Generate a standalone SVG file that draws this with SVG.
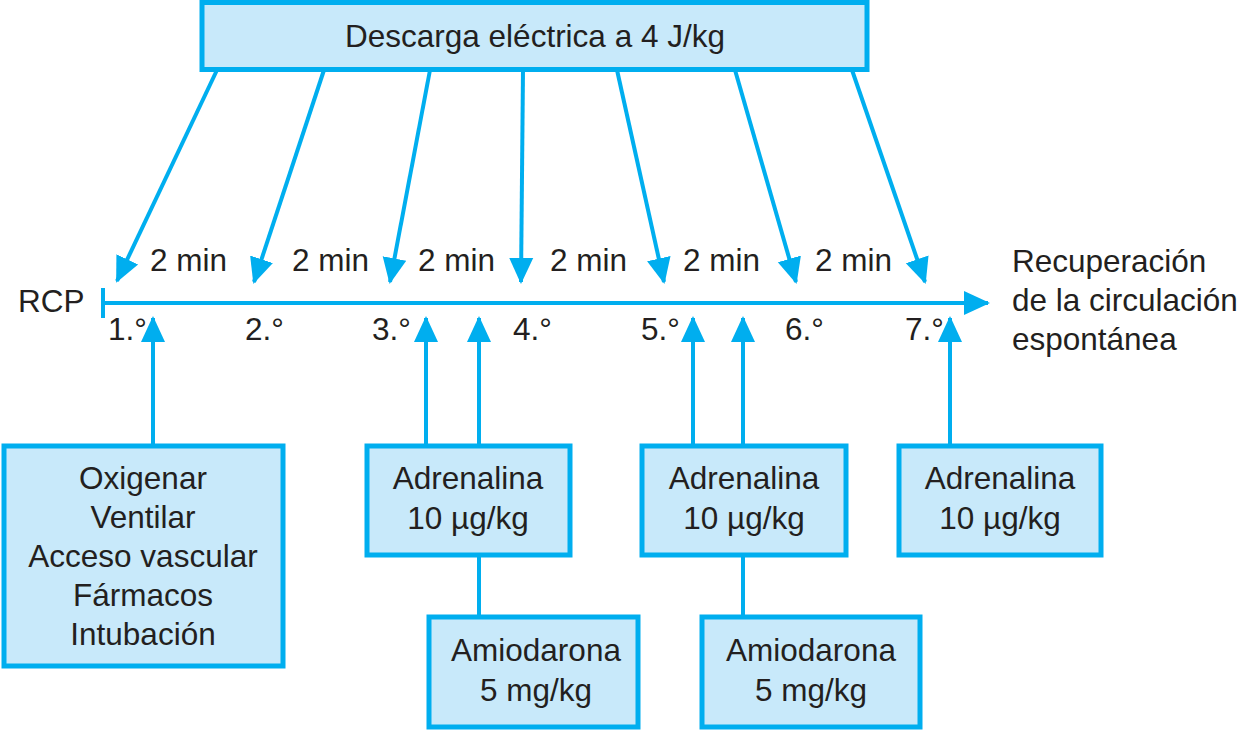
<svg xmlns="http://www.w3.org/2000/svg" width="1249" height="732" viewBox="0 0 1249 732">
<defs>
<style>
.box{fill:#C8E9FA;stroke:#00AEEF;stroke-width:5}
.ln{stroke:#00AEEF;stroke-width:4;fill:none}
.t{font-family:"Liberation Sans",Arial,sans-serif;font-size:31.5px;fill:#231F20}
.c{text-anchor:middle}
</style>
<marker id="ah" markerUnits="userSpaceOnUse" markerWidth="26" markerHeight="26" viewBox="0 0 26 26" refX="24" refY="13" orient="auto">
<path d="M0,1 L26,13 L0,25 Z" fill="#00AEEF"/>
</marker>
</defs>
<rect width="1249" height="732" fill="#fff"/>
<g id="connectors">
<line class="ln" x1="217" y1="70" x2="117" y2="281" marker-end="url(#ah)"/>
<line class="ln" x1="324" y1="70" x2="254" y2="282" marker-end="url(#ah)"/>
<line class="ln" x1="430" y1="70" x2="390" y2="282" marker-end="url(#ah)"/>
<line class="ln" x1="523" y1="70" x2="521" y2="282" marker-end="url(#ah)"/>
<line class="ln" x1="617" y1="70" x2="664" y2="282" marker-end="url(#ah)"/>
<line class="ln" x1="735" y1="70" x2="796" y2="282" marker-end="url(#ah)"/>
<line class="ln" x1="852" y1="70" x2="925" y2="282" marker-end="url(#ah)"/>
<line class="ln" x1="103" y1="303" x2="988" y2="303" marker-end="url(#ah)"/>
<line class="ln" x1="103" y1="288" x2="103" y2="318"/>
<line class="ln" x1="153" y1="444" x2="153" y2="318" marker-end="url(#ah)"/>
<line class="ln" x1="426" y1="444" x2="426" y2="318" marker-end="url(#ah)"/>
<line class="ln" x1="479" y1="444" x2="479" y2="318" marker-end="url(#ah)"/>
<line class="ln" x1="693" y1="444" x2="693" y2="318" marker-end="url(#ah)"/>
<line class="ln" x1="743" y1="444" x2="743" y2="318" marker-end="url(#ah)"/>
<line class="ln" x1="950" y1="444" x2="950" y2="318" marker-end="url(#ah)"/>
<line class="ln" x1="479" y1="556" x2="479" y2="616"/>
<line class="ln" x1="743" y1="556" x2="743" y2="616"/>
</g>
<g id="shock">
<rect class="box" x="202" y="2.5" width="665" height="67"/>
<text class="t c" x="535" y="47">Descarga eléctrica a 4 J/kg</text>
</g>
<g id="timeline-labels">
<text class="t" x="18" y="312">RCP</text>
<text class="t" x="150" y="271">2 min</text>
<text class="t" x="292" y="271">2 min</text>
<text class="t" x="418" y="271">2 min</text>
<text class="t" x="550" y="271">2 min</text>
<text class="t" x="683" y="271">2 min</text>
<text class="t" x="815" y="271">2 min</text>
<text class="t" x="108" y="340">1.°</text>
<text class="t" x="245" y="340">2.°</text>
<text class="t" x="372" y="340">3.°</text>
<text class="t" x="513" y="340">4.°</text>
<text class="t" x="641" y="340">5.°</text>
<text class="t" x="785" y="340">6.°</text>
<text class="t" x="905" y="340">7.°</text>
</g>
<g id="outcome">
<text class="t" x="1012" y="272">Recuperación</text>
<text class="t" x="1012" y="311">de la circulación</text>
<text class="t" x="1012" y="350">espontánea</text>
</g>
<g id="initial">
<rect class="box" x="4" y="446" width="279" height="220"/>
<text class="t c" x="143" y="489">Oxigenar</text>
<text class="t c" x="143" y="528">Ventilar</text>
<text class="t c" x="143" y="567">Acceso vascular</text>
<text class="t c" x="143" y="606">Fármacos</text>
<text class="t c" x="143" y="645">Intubación</text>
</g>
<g id="adrenalina1">
<rect class="box" x="367" y="446" width="203" height="109"/>
<text class="t c" x="468" y="489">Adrenalina</text>
<text class="t c" x="468" y="529">10 µg/kg</text>
</g>
<g id="amiodarona1">
<rect class="box" x="429" y="617" width="209" height="110"/>
<text class="t c" x="536" y="661">Amiodarona</text>
<text class="t c" x="536" y="701">5 mg/kg</text>
</g>
<g id="adrenalina2">
<rect class="box" x="642" y="446" width="204" height="109"/>
<text class="t c" x="744" y="489">Adrenalina</text>
<text class="t c" x="744" y="529">10 µg/kg</text>
</g>
<g id="amiodarona2">
<rect class="box" x="702" y="617" width="218" height="110"/>
<text class="t c" x="811" y="661">Amiodarona</text>
<text class="t c" x="811" y="701">5 mg/kg</text>
</g>
<g id="adrenalina3">
<rect class="box" x="899" y="446" width="202" height="109"/>
<text class="t c" x="1000" y="489">Adrenalina</text>
<text class="t c" x="1000" y="529">10 µg/kg</text>
</g>
</svg>
